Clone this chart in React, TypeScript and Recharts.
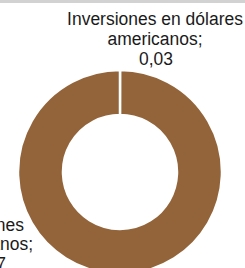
import { Cell, Pie, PieChart } from "recharts";

// Single-series donut: almost everything in pesos, a hairline slice in dollars.
// Excel-style condensed labels, the lower one running off the left edge.

const NAMES = [
  "Inversiones en dólares americanos",
  "Inversiones en pesos mexicanos",
];
const VALUES = [0.03, 99.97];
const VALUE_TEXT = ["0,03", "99,97"];
const LABEL_LINES = [
  ["Inversiones en dólares", "americanos;"],
  ["Inversiones", "en pesos mexicanos;"],
];

const BROWN = "#936439";
const FONT = '"Liberation Sans", Arial, sans-serif';
const SQUEEZE = 0.92; // the source font is a touch narrower than Arial

// where each label sits relative to the pie centre
const LABEL_POS = [
  { anchor: "middle", dx: [35, 35, 36], dy: [-147, -127, -107] },
  { anchor: "end", dx: [-96, -87, -114], dy: [59, 78, 98] },
] as const;

const data = NAMES.map((name, i) => ({ name, value: VALUES[i] }));

function renderLabel(props: any) {
  const { cx, cy, index } = props;
  const pos = LABEL_POS[index];
  const lines = [...LABEL_LINES[index], VALUE_TEXT[index]];
  return (
    <g key={`lbl-${index}`}>
      {lines.map((line, j) => (
        <text
          key={j}
          x={0}
          y={0}
          transform={`translate(${cx + pos.dx[j]},${cy + pos.dy[j]}) scale(${SQUEEZE},1)`}
          textAnchor={pos.anchor}
          fontFamily={FONT}
          fontSize={19}
          fill="#1a1a1a"
        >
          {line}
        </text>
      ))}
    </g>
  );
}

export default function App() {
  return (
    <div
      style={{
        position: "absolute",
        left: 0,
        top: 0,
        width: 245,
        height: 268,
        background: "#fff",
        overflow: "hidden",
      }}
    >
      <div
        style={{
          position: "absolute",
          left: 0,
          top: 0,
          width: 245,
          height: 3,
          background: "#d2d2d2",
        }}
      />
      <PieChart
        width={245}
        height={268}
        margin={{ top: 0, right: 0, bottom: 0, left: 0 }}
        style={{ overflow: "visible" }}
      >
        <Pie
          data={data}
          dataKey="value"
          cx={120}
          cy={172}
          innerRadius={57}
          outerRadius={102}
          startAngle={90}
          endAngle={-270}
          stroke="#fff"
          strokeWidth={2.5}
          label={renderLabel}
          labelLine={false}
          isAnimationActive={false}
        >
          {data.map((_, i) => (
            <Cell key={i} fill={BROWN} />
          ))}
        </Pie>
      </PieChart>
    </div>
  );
}
